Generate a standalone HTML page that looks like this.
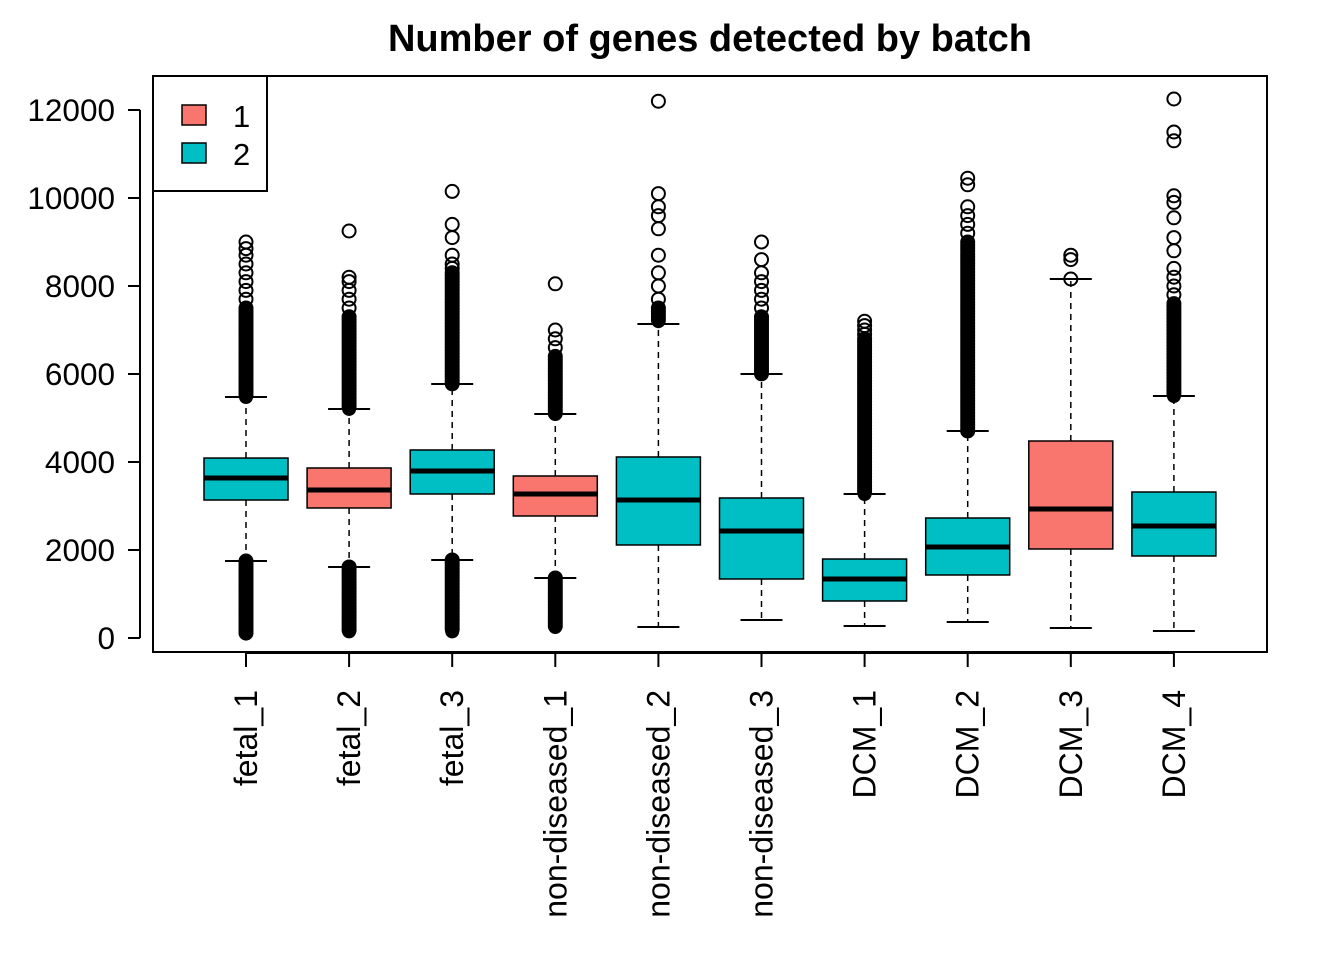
<!DOCTYPE html>
<html><head><meta charset="utf-8"><style>
body{margin:0;background:#fff}
svg{display:block;font-family:"Liberation Sans",Arial,sans-serif}
</style></head><body>
<svg id="chart" width="1344" height="960">
<text x="710" y="51" text-anchor="middle" font-size="38" font-weight="bold">Number of genes detected by batch</text>
<rect x="153" y="76" width="1114" height="576" fill="none" stroke="#000" stroke-width="2"/>
<g id="yaxis"></g>
<g id="xaxis"></g>
<g id="boxes"></g>
<g>
<rect x="153" y="76" width="114" height="115" fill="#fff" stroke="#000" stroke-width="2"/>
<rect x="182" y="105" width="24" height="20" fill="#F8766D" stroke="#000" stroke-width="1.5"/>
<text x="233" y="127" font-size="31">1</text>
<rect x="182" y="143" width="24" height="20" fill="#00BFC4" stroke="#000" stroke-width="1.5"/>
<text x="233" y="165" font-size="31">2</text>
</g>
</svg>
<script>
const categories=["fetal_1","fetal_2","fetal_3","non-diseased_1","non-diseased_2","non-diseased_3","DCM_1","DCM_2","DCM_3","DCM_4"];
const batch=[2,1,2,1,2,2,2,2,1,2];
const lowerWhisker=[1750,1614,1773,1364,250,409,273,364,227,159];
const q1=[3136,2955,3273,2773,2114,1341,841,1432,2023,1864];
const median=[3636,3364,3795,3273,3136,2432,1341,2068,2932,2545];
const q3=[4090,3864,4273,3682,4114,3182,1795,2727,4477,3318];
const upperWhisker=[5477,5205,5773,5091,7136,6000,3273,4705,8159,5500];
const denseHigh=[[5477,7500],[5205,7300],[5773,8300],[5091,6400],[7200,7500],[6000,7300],[3273,6800],[4705,9000],[8159,8159],[5500,7600]];
const denseLow=[[100,1750],[150,1614],[150,1773],[250,1364],null,null,null,null,null,null];
const sparseOut=[[7700,7900,8100,8300,8500,8700,8850,9000],[7500,7700,7900,8100,8200,9250],[8400,8500,8700,9100,9400,10150],[6600,6800,7000,8050],[7700,8000,8300,8700,9300,9600,9800,10100,12200],[7500,7700,7900,8100,8300,8600,9000],[6900,7000,7100,7200],[9200,9400,9600,9800,10300,10450],[8600,8700],[7800,8000,8200,8400,8800,9100,9550,9900,10050,11300,11500,12250]];
const yTicks=[0,2000,4000,6000,8000,10000,12000];
const NS="http://www.w3.org/2000/svg";
const y=v=>638-v*0.044;
const x=i=>246+i*103.1;
function mk(p,t,a){const e=document.createElementNS(NS,t);for(const k in a)e.setAttribute(k,a[k]);p.appendChild(e);return e;}
const ya=document.getElementById('yaxis');
mk(ya,'line',{x1:140,x2:140,y1:y(0),y2:y(12000),stroke:'#000','stroke-width':2});
yTicks.forEach(t=>{
 const l=mk(ya,'line',{x1:128,x2:140,y1:y(t),y2:y(t),stroke:'#000','stroke-width':2});
 
 
 const tx=mk(ya,'text',{x:115,y:y(t)+11,'text-anchor':'end','font-size':31.5});
 
 
 tx.textContent=t;
});
const xa=document.getElementById('xaxis');
mk(xa,'line',{x1:x(0),x2:x(9),y1:653,y2:653,stroke:'#000','stroke-width':2});
categories.forEach((c,i)=>{
 const l=mk(xa,'line',{x1:x(i),x2:x(i),y1:653,y2:667,stroke:'#000','stroke-width':2});
 
 
 const tx=mk(xa,'text',{x:0,y:0,'text-anchor':'end','font-size':32,transform:`translate(${x(i)+11},690) rotate(-90)`});
 
 
 tx.textContent=c;
});
const bx=document.getElementById('boxes');
categories.forEach((c,i)=>{
 const g=mk(bx,'g',{});
 
 
 const cx=x(i),hw=42,cw=21;
 mk(g,'line',{x1:cx,x2:cx,y1:y(q3[i]),y2:y(upperWhisker[i]),stroke:'#000','stroke-width':1.5,'stroke-dasharray':'6,5'});
 mk(g,'line',{x1:cx,x2:cx,y1:y(q1[i]),y2:y(lowerWhisker[i]),stroke:'#000','stroke-width':1.5,'stroke-dasharray':'6,5'});
 mk(g,'line',{x1:cx-cw,x2:cx+cw,y1:y(upperWhisker[i]),y2:y(upperWhisker[i]),stroke:'#000','stroke-width':2});
 mk(g,'line',{x1:cx-cw,x2:cx+cw,y1:y(lowerWhisker[i]),y2:y(lowerWhisker[i]),stroke:'#000','stroke-width':2});
 mk(g,'rect',{x:cx-hw,y:y(q3[i]),width:2*hw,height:y(q1[i])-y(q3[i]),fill:batch[i]===1?'#F8766D':'#00BFC4',stroke:'#000','stroke-width':1.5});
 mk(g,'line',{x1:cx-hw,x2:cx+hw,y1:y(median[i]),y2:y(median[i]),stroke:'#000','stroke-width':5});
 [denseHigh[i],denseLow[i]].forEach(r=>{if(!r||r[1]===r[0])return;
  mk(g,'line',{x1:cx,x2:cx,y1:y(r[1]),y2:y(r[0]),stroke:'#000','stroke-width':14,'stroke-linecap':'round'});
  for(let p=y(r[1]);p<=y(r[0])+0.1;p+=3)mk(g,'circle',{cx:cx,cy:p,r:6.5,fill:'none',stroke:'#000','stroke-width':2});
 });
 if(denseHigh[i][1]===denseHigh[i][0])mk(g,'circle',{cx:cx,cy:y(denseHigh[i][0]),r:6.5,fill:'none',stroke:'#000','stroke-width':2});
 sparseOut[i].forEach(v=>{mk(g,'circle',{cx:cx,cy:y(v),r:6.5,fill:'none',stroke:'#000','stroke-width':2});});
});
</script>
</body></html>
